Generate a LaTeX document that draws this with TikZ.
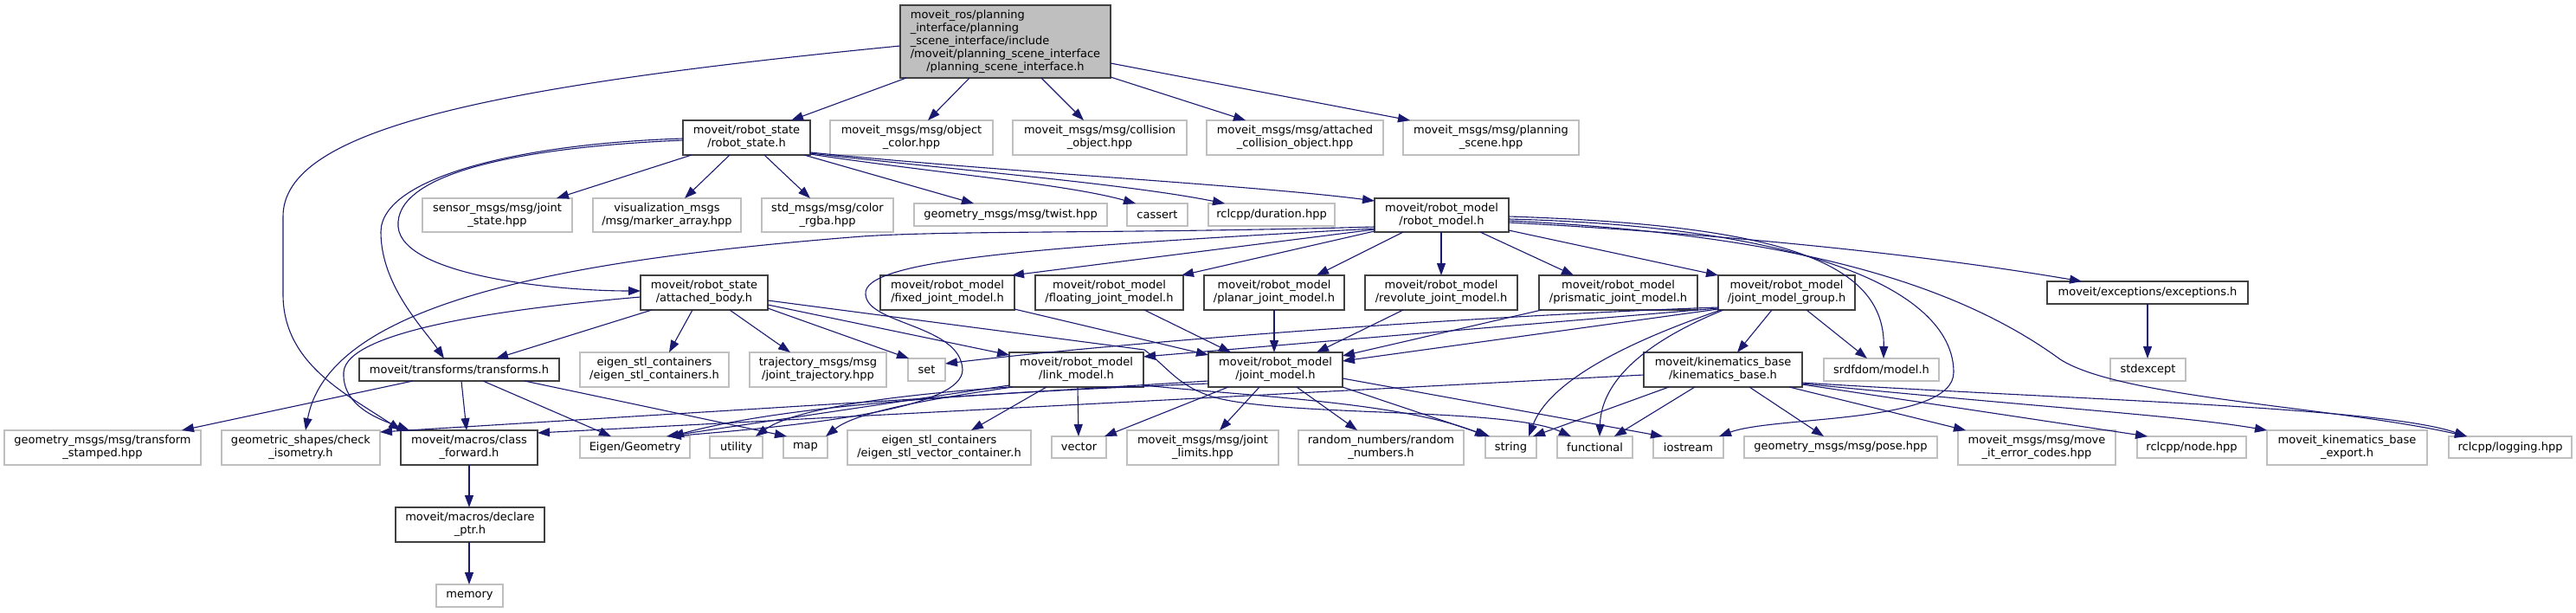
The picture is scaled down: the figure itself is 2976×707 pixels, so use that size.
\documentclass[tikz,border=0pt]{standalone}
\usepackage{fontspec}
\setmainfont{DejaVu Sans}
\usetikzlibrary{arrows.meta,calc}
\definecolor{edgec}{HTML}{191970}
\definecolor{gborder}{HTML}{BFBFBF}
\definecolor{bborder}{HTML}{404040}
\definecolor{rootfill}{HTML}{BFBFBF}
\begin{document}
\begin{tikzpicture}[x=1pt,y=-1pt,
  box/.style={rectangle, inner sep=0pt, outer sep=0pt, align=center, anchor=north west, line width=1.1pt, font=\fontsize{13}{15}\selectfont},
  gb/.style={box, draw=gborder},
  bb/.style={box, draw=bborder},
  rb/.style={box, draw=bborder, fill=rootfill},
  sz/.style 2 args={minimum width=#1pt, minimum height=#2pt},
  e/.style={draw=edgec, line width=1.1pt, -{Triangle[length=14pt,width=10pt]}}
]
\useasboundingbox (0,0) rectangle (2976,707);
% ---------- nodes ----------
\node[rb, sz={243}{84}] (root) at (1040,6) {\begin{tabular}{@{}l@{}}moveit\_ros/planning\\\_interface/planning\\\_scene\_interface/include\\\multicolumn{1}{@{}c@{}}{/moveit/planning\_scene\_interface}\\\multicolumn{1}{@{}c@{}}{/planning\_scene\_interface.h}\end{tabular}};
\node[bb, sz={147}{40}] (rs) at (789,139) {moveit/robot\_state\\/robot\_state.h};
\node[gb, sz={188}{40}] (oc) at (959,139) {moveit\_msgs/msg/object\\\_color.hpp};
\node[gb, sz={201}{40}] (co) at (1170,139) {moveit\_msgs/msg/collision\\\_object.hpp};
\node[gb, sz={204}{40}] (aco) at (1394,139) {moveit\_msgs/msg/attached\\\_collision\_object.hpp};
\node[gb, sz={203}{40}] (ps) at (1621,139) {moveit\_msgs/msg/planning\\\_scene.hpp};
\node[gb, sz={173}{39}] (js) at (488,229) {sensor\_msgs/msg/joint\\\_state.hpp};
\node[gb, sz={171}{39}] (viz) at (685,229) {visualization\_msgs\\/msg/marker\_array.hpp};
\node[gb, sz={152}{39}] (rgba) at (880,229) {std\_msgs/msg/color\\\_rgba.hpp};
\node[gb, sz={223}{26}] (twist) at (1056,235) {geometry\_msgs/msg/twist.hpp};
\node[gb, sz={70}{26}] (cassert) at (1302,235) {cassert};
\node[gb, sz={146}{26}] (dur) at (1396,235) {rclcpp/duration.hpp};
\node[bb, sz={155}{39}] (rm) at (1588,229) {moveit/robot\_model\\/robot\_model.h};
\node[bb, sz={147}{40}] (ab) at (740,318) {moveit/robot\_state\\/attached\_body.h};
\node[bb, sz={155}{40}] (fixed) at (1017,318) {moveit/robot\_model\\/fixed\_joint\_model.h};
\node[bb, sz={171}{40}] (float) at (1196,318) {moveit/robot\_model\\/floating\_joint\_model.h};
\node[bb, sz={162}{40}] (planar) at (1391,318) {moveit/robot\_model\\/planar\_joint\_model.h};
\node[bb, sz={176}{40}] (rev) at (1577,318) {moveit/robot\_model\\/revolute\_joint\_model.h};
\node[bb, sz={183}{40}] (pris) at (1778,318) {moveit/robot\_model\\/prismatic\_joint\_model.h};
\node[bb, sz={158}{40}] (jmg) at (1985,318) {moveit/robot\_model\\/joint\_model\_group.h};
\node[bb, sz={232}{26}] (exc) at (2365,325) {moveit/exceptions/exceptions.h};
\node[bb, sz={231}{26}] (tf) at (415,414) {moveit/transforms/transforms.h};
\node[gb, sz={172}{40}] (esc) at (670,407) {eigen\_stl\_containers\\/eigen\_stl\_containers.h};
\node[gb, sz={158}{40}] (traj) at (866,407) {trajectory\_msgs/msg\\/joint\_trajectory.hpp};
\node[gb, sz={43}{26}] (set) at (1049,414) {set};
\node[bb, sz={155}{40}] (lm) at (1166,407) {moveit/robot\_model\\/link\_model.h};
\node[bb, sz={155}{40}] (jm) at (1396,407) {moveit/robot\_model\\/joint\_model.h};
\node[bb, sz={183}{40}] (kb) at (1899,407) {moveit/kinematics\_base\\/kinematics\_base.h};
\node[gb, sz={133}{26}] (srdf) at (2107,414) {srdfdom/model.h};
\node[gb, sz={87}{26}] (stdex) at (2438,414) {stdexcept};
\node[gb, sz={227}{40}] (tstamp) at (5,497) {geometry\_msgs/msg/transform\\\_stamped.hpp};
\node[gb, sz={183}{40}] (iso) at (256,497) {geometric\_shapes/check\\\_isometry.h};
\node[bb, sz={158}{40}] (cf) at (463,497) {moveit/macros/class\\\_forward.h};
\node[gb, sz={127}{25}] (eig) at (670,504) {Eigen/Geometry};
\node[gb, sz={61}{25}] (util) at (820,504) {utility};
\node[gb, sz={51}{25}] (map) at (905,504) {map};
\node[gb, sz={212}{40}] (esvc) at (979,497) {eigen\_stl\_containers\\/eigen\_stl\_vector\_container.h};
\node[gb, sz={63}{25}] (vec) at (1215,504) {vector};
\node[gb, sz={175}{40}] (jl) at (1302,497) {moveit\_msgs/msg/joint\\\_limits.hpp};
\node[gb, sz={191}{40}] (rn) at (1500,497) {random\_numbers/random\\\_numbers.h};
\node[gb, sz={59}{25}] (str) at (1716,504) {string};
\node[gb, sz={87}{25}] (func) at (1799,504) {functional};
\node[gb, sz={81}{25}] (ios) at (1910,504) {iostream};
\node[gb, sz={223}{25}] (pose) at (2015,504) {geometry\_msgs/msg/pose.hpp};
\node[gb, sz={182}{40}] (err) at (2262,497) {moveit\_msgs/msg/move\\\_it\_error\_codes.hpp};
\node[gb, sz={126}{25}] (node) at (2469,504) {rclcpp/node.hpp};
\node[gb, sz={185}{40}] (exp) at (2619,497) {moveit\_kinematics\_base\\\_export.h};
\node[gb, sz={142}{25}] (log) at (2829,504) {rclcpp/logging.hpp};
\node[bb, sz={172}{40}] (dp) at (457,586) {moveit/macros/declare\\\_ptr.h};
\node[gb, sz={77}{26}] (mem) at (504,675) {memory};
% ---------- edges: root ----------
\draw[e] ($(root.north west)+(7,84)$) -- ($(rs.north west)+(125,0)$);
\draw[e] ($(root.north west)+(80,84)$) -- ($(oc.north west)+(113,0)$);
\draw[e] ($(root.north west)+(163,84)$) -- ($(co.north west)+(82,0)$);
\draw[e] ($(root.north west)+(243,83)$) -- ($(aco.north west)+(45,0)$);
\draw[e] ($(root.north west)+(243,67)$) -- ($(ps.north west)+(8,0)$);
\draw[e] ($(root.north west)+(0,47)$) .. controls (560,100) and (327,150) .. (327,250) -- (327,340) .. controls (327,420) and (400,455) .. ($(cf.north west)+(0,0)$);
% ---------- robot_state ----------
\draw[e] ($(rs.north west)+(10,40)$) -- ($(js.north west)+(155,0)$);
\draw[e] ($(rs.north west)+(54,40)$) -- ($(viz.north west)+(106,0)$);
\draw[e] ($(rs.north west)+(94,40)$) -- ($(rgba.north west)+(56,0)$);
\draw[e] ($(rs.north west)+(140,40)$) -- ($(twist.north west)+(69,0)$);
\draw[e] ($(rs.north west)+(147,39)$) .. controls (1080,200) and (1230,212) .. ($(cassert.north west)+(10,0)$);
\draw[e] ($(rs.north west)+(147,38)$) .. controls (1100,196) and (1300,212) .. ($(dur.north west)+(19,0)$);
\draw[e] ($(rs.north west)+(147,37)$) .. controls (1150,198) and (1450,214) .. ($(rm.north west)+(0,3)$);
\draw[e] ($(rs.north west)+(0,23)$) .. controls (600,170) and (455,200) .. (460,262) .. controls (465,318) and (640,336) .. ($(ab.north west)+(0,18)$);
\draw[e] ($(rs.north west)+(0,21)$) .. controls (600,166) and (440,205) .. (440,268) .. controls (440,330) and (490,380) .. ($(tf.north west)+(98,0)$);
% ---------- attached_body ----------
\draw[e] ($(ab.north west)+(13,40)$) -- ($(tf.north west)+(158,0)$);
\draw[e] ($(ab.north west)+(60,40)$) -- ($(esc.north west)+(103,0)$);
\draw[e] ($(ab.north west)+(103,40)$) -- ($(traj.north west)+(47,0)$);
\draw[e] ($(ab.north west)+(147,38)$) -- ($(set.north west)+(1,0)$);
\draw[e] ($(ab.north west)+(147,34)$) -- ($(lm.north west)+(0,3)$);
\draw[e] ($(ab.north west)+(147,29)$) -- (1322,404) .. controls (1350,425) and (1360,445) .. (1400,458) .. controls (1480,482) and (1740,470) .. ($(func.north west)+(16,0)$);
\draw[e] ($(ab.north west)+(0,25)$) .. controls (600,355) and (400,380) .. (397,430) .. controls (395,470) and (440,485) .. ($(cf.north west)+(10,0)$);
% ---------- robot_model ----------
\draw[e] ($(rm.north west)+(0,36)$) -- ($(fixed.north west)+(152,0)$);
\draw[e] ($(rm.north west)+(0,38)$) -- ($(float.north west)+(169,0)$);
\draw[e] ($(rm.north west)+(33,39)$) -- ($(planar.north west)+(130,0)$);
\draw[e] ($(rm.north west)+(77,39)$) -- ($(rev.north west)+(88,0)$);
\draw[e] ($(rm.north west)+(122,39)$) -- ($(pris.north west)+(40,0)$);
\draw[e] ($(rm.north west)+(155,37)$) -- ($(jmg.north west)+(0,0)$);
\draw[e] ($(rm.north west)+(155,28)$) .. controls (1950,268) and (2200,290) .. ($(exc.north west)+(40,0)$);
\draw[e] ($(rm.north west)+(155,21)$) .. controls (2050,260) and (2178,300) .. ($(srdf.north west)+(69,0)$);
\draw[e] ($(rm.north west)+(155,24)$) .. controls (2100,262) and (2257,340) .. (2257,430) .. controls (2257,490) and (2050,480) .. ($(ios.north west)+(76,0)$);
\draw[e] ($(rm.north west)+(155,26)$) .. controls (2050,270) and (2250,320) .. (2380,415) .. controls (2450,460) and (2700,470) .. ($(log.north west)+(21,0)$);
\draw[e] ($(rm.north west)+(0,33)$) .. controls (1300,270) and (1100,266) .. (996,273) .. controls (650,300) and (380,350) .. ($(iso.north west)+(97,0)$);
\draw[e] ($(rm.north west)+(0,35)$) .. controls (1200,285) and (995,300) .. (1000,340) .. controls (1002,375) and (1110,375) .. (1112,427) .. controls (1112,470) and (950,490) .. ($(eig.north west)+(103,0)$);
% ---------- joint_model_group ----------
\draw[e] ($(jmg.north west)+(0,39)$) -- ($(jm.north west)+(155,10)$);
\draw[e] ($(jmg.north west)+(0,38)$) -- ($(lm.north west)+(155,5)$);
\draw[e] ($(jmg.north west)+(0,37)$) .. controls (1700,365) and (1300,395) .. ($(set.north west)+(43,6)$);
\draw[e] ($(jmg.north west)+(3,40)$) .. controls (1880,395) and (1790,440) .. ($(str.north west)+(50,0)$);
\draw[e] ($(jmg.north west)+(6,40)$) .. controls (1900,395) and (1850,440) .. ($(func.north west)+(49,0)$);
\draw[e] ($(jmg.north west)+(62,40)$) -- ($(kb.north west)+(108,0)$);
\draw[e] ($(jmg.north west)+(102,40)$) -- ($(srdf.north west)+(50,0)$);
\draw[e] ($(exc.north west)+(116,26)$) -- ($(stdex.north west)+(43,0)$);
% ---------- joint models ----------
\draw[e] ($(fixed.north west)+(155,39)$) -- ($(jm.north west)+(0,3)$);
\draw[e] ($(float.north west)+(126,40)$) -- ($(jm.north west)+(26,0)$);
\draw[e] ($(planar.north west)+(81,40)$) -- ($(jm.north west)+(76,0)$);
\draw[e] ($(rev.north west)+(44,40)$) -- ($(jm.north west)+(125,0)$);
\draw[e] ($(pris.north west)+(3,40)$) -- ($(jm.north west)+(155,4)$);
% ---------- transforms / macros ----------
\draw[e] ($(tf.north west)+(62,26)$) -- ($(tstamp.north west)+(205,0)$);
\draw[e] ($(tf.north west)+(118,26)$) -- ($(cf.north west)+(76,0)$);
\draw[e] ($(tf.north west)+(143,26)$) -- ($(eig.north west)+(36,0)$);
\draw[e] ($(tf.north west)+(191,26)$) -- ($(map.north west)+(4,0)$);
\draw[e] ($(cf.north west)+(79,40)$) -- ($(dp.north west)+(85,0)$);
\draw[e] ($(dp.north west)+(85,40)$) -- ($(mem.north west)+(38,0)$);
% ---------- link_model ----------
\draw[e] ($(lm.north west)+(43,40)$) -- ($(esvc.north west)+(143,0)$);
\draw[e] ($(lm.north west)+(79,40)$) -- ($(vec.north west)+(31,0)$);
\draw[e] ($(lm.north west)+(155,38)$) .. controls (1450,458) and (1620,465) .. ($(str.north west)+(2,0)$);
\draw[e] ($(lm.north west)+(0,38)$) -- ($(eig.north west)+(100,0)$);
\draw[e] ($(lm.north west)+(0,40)$) .. controls (1050,455) and (920,470) .. ($(util.north west)+(53,0)$);
\draw[e] ($(lm.north west)+(4,40)$) .. controls (1080,460) and (990,475) .. ($(map.north west)+(49,0)$);
% ---------- joint_model ----------
\draw[e] ($(jm.north west)+(0,33)$) -- ($(iso.north west)+(183,2)$);
\draw[e] ($(jm.north west)+(0,36)$) .. controls (1100,455) and (900,470) .. ($(eig.north west)+(106,0)$);
\draw[e] ($(jm.north west)+(23,40)$) -- ($(vec.north west)+(61,0)$);
\draw[e] ($(jm.north west)+(59,40)$) -- ($(jl.north west)+(107,0)$);
\draw[e] ($(jm.north west)+(102,40)$) -- ($(rn.north west)+(68,0)$);
\draw[e] ($(jm.north west)+(155,40)$) -- ($(str.north west)+(5,0)$);
\draw[e] ($(jm.north west)+(155,30)$) -- ($(ios.north west)+(11,0)$);
% ---------- kinematics_base ----------
\draw[e] ($(kb.north west)+(29,40)$) -- ($(str.north west)+(55,0)$);
\draw[e] ($(kb.north west)+(59,40)$) -- ($(func.north west)+(66,0)$);
\draw[e] ($(kb.north west)+(122,40)$) -- ($(pose.north west)+(92,0)$);
\draw[e] ($(kb.north west)+(168,40)$) -- ($(err.north west)+(9,0)$);
\draw[e] ($(kb.north west)+(183,37)$) -- ($(node.north west)+(12,0)$);
\draw[e] ($(kb.north west)+(183,36)$) .. controls (2350,470) and (2520,480) .. ($(exp.north west)+(0,0)$);
\draw[e] ($(kb.north west)+(183,35)$) .. controls (2400,462) and (2750,470) .. ($(log.north west)+(21,0)$);
\draw[e] ($(kb.north west)+(0,26)$) -- ($(cf.north west)+(158,3)$);
\end{tikzpicture}
\end{document}
